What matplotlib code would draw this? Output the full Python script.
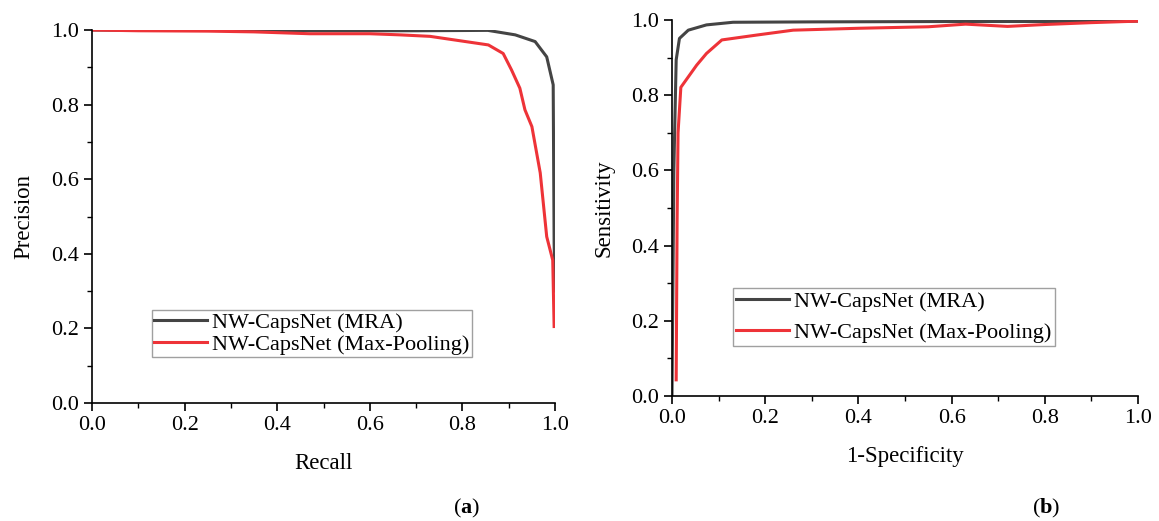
import matplotlib
matplotlib.use("Agg")
import matplotlib.pyplot as plt
from matplotlib.ticker import MultipleLocator

plt.rcParams["font.family"] = ["Liberation Serif", "DejaVu Serif"]
plt.rcParams["mathtext.fontset"] = "custom"
plt.rcParams["mathtext.bf"] = "Liberation Serif:bold"

# precision-recall curves (a)
pr_recall_mra = [0.0, 0.1, 0.3, 0.5, 0.7, 0.855, 0.914, 0.957, 0.982, 0.996, 0.998, 1.0]
pr_prec_mra = [1.0, 0.999, 0.999, 0.998, 0.998, 0.999, 0.987, 0.969, 0.928, 0.853, 0.43, 0.30]

pr_recall_mp = [0.0, 0.1, 0.25, 0.35, 0.47, 0.6, 0.665, 0.73, 0.856, 0.888, 0.906, 0.924,
                0.935, 0.95, 0.968, 0.982, 0.995, 0.998]
pr_prec_mp = [1.0, 0.998, 0.997, 0.995, 0.99, 0.99, 0.987, 0.983, 0.96, 0.937, 0.893, 0.844,
              0.786, 0.741, 0.617, 0.446, 0.383, 0.205]

# ROC curves (b)
roc_fpr_mra = [0.0, 0.002, 0.004, 0.006, 0.009, 0.016, 0.035, 0.074, 0.131, 0.3, 0.6, 0.9, 1.0]
roc_tpr_mra = [0.0, 0.3, 0.6, 0.72, 0.894, 0.951, 0.973, 0.987, 0.994, 0.995, 0.996, 0.996, 0.997]

roc_fpr_mp = [0.009, 0.011, 0.013, 0.019, 0.053, 0.074, 0.107, 0.182, 0.26, 0.4, 0.55, 0.63,
              0.72, 0.8, 0.9, 1.0]
roc_tpr_mp = [0.043, 0.468, 0.7, 0.821, 0.88, 0.911, 0.947, 0.96, 0.973, 0.978, 0.982, 0.989,
              0.983, 0.988, 0.993, 0.997]

labels = ["NW-CapsNet (MRA)", "NW-CapsNet (Max-Pooling)"]
dark = "#444444"
red = "#ee3338"


def style_axes(ax):
    ax.set_xlim(0, 1)
    ax.set_ylim(0, 1)
    ax.spines["top"].set_visible(False)
    ax.spines["right"].set_visible(False)
    ax.xaxis.set_major_locator(MultipleLocator(0.2))
    ax.yaxis.set_major_locator(MultipleLocator(0.2))
    ax.xaxis.set_minor_locator(MultipleLocator(0.1))
    ax.yaxis.set_minor_locator(MultipleLocator(0.1))
    ax.tick_params(which="major", direction="out", length=6, width=1.2, labelsize=16)
    ax.tick_params(which="minor", direction="out", length=3.5, width=1.0)
    ax.xaxis.set_major_formatter(lambda v, p: f"{v:.1f}")
    ax.yaxis.set_major_formatter(lambda v, p: f"{v:.1f}")
    for s in ["left", "bottom"]:
        ax.spines[s].set_linewidth(1.2)


fig = plt.figure(figsize=(11.59, 5.21), dpi=100)
ax1 = fig.add_axes([0.0794, 0.2265, 0.3995, 0.7159])
ax2 = fig.add_axes([0.5798, 0.2399, 0.4021, 0.7217])

ax1.plot(pr_recall_mra, pr_prec_mra, color=dark, lw=2.2, label=labels[0])
ax1.plot(pr_recall_mp, pr_prec_mp, color=red, lw=2.2, label=labels[1])
style_axes(ax1)
ax1.set_xlabel("Recall", fontsize=16.5, labelpad=13)
ax1.set_ylabel("Precision", fontsize=16.5, labelpad=12)
leg1 = ax1.legend(loc="lower left", bbox_to_anchor=(0.13, 0.123), fontsize=16, frameon=True,
                  fancybox=False, edgecolor="#888888", handlelength=2.35, handletextpad=0.25,
                  borderpad=0.1, labelspacing=0.05, borderaxespad=0)
leg1.get_frame().set_linewidth(1.0)

ax2.plot(roc_fpr_mra, roc_tpr_mra, color=dark, lw=2.2, label=labels[0])
ax2.plot(roc_fpr_mp, roc_tpr_mp, color=red, lw=2.2, label=labels[1])
style_axes(ax2)
ax2.set_xlabel("1-Specificity", fontsize=16.5, labelpad=13)
ax2.set_ylabel("Sensitivity", fontsize=16.5, labelpad=12)
leg2 = ax2.legend(loc="lower left", bbox_to_anchor=(0.131, 0.133), fontsize=16, frameon=True,
                  fancybox=False, edgecolor="#888888", handlelength=2.35, handletextpad=0.25,
                  borderpad=0.15, labelspacing=0.45, borderaxespad=0)
leg2.get_frame().set_linewidth(1.0)

fig.text(0.4025, 0.015, r"($\mathbf{a}$)", fontsize=16, ha="center")
fig.text(0.9025, 0.015, r"($\mathbf{b}$)", fontsize=16, ha="center")

fig.savefig("out.png", dpi=100)
